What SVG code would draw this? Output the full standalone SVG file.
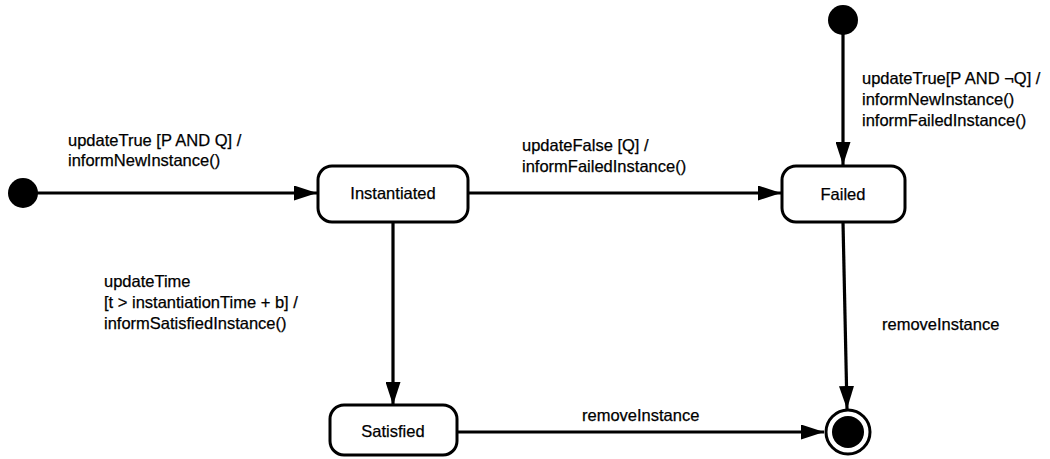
<svg xmlns="http://www.w3.org/2000/svg" width="1050" height="459" viewBox="0 0 1050 459">
  <style>
    text { font-family: "Liberation Sans", Arial, sans-serif; font-size: 16.5px; fill: #000; stroke: #000; stroke-width: 0.25; }
    .state { fill: #fff; stroke: #000; stroke-width: 3; }
    .name { text-anchor: middle; }
    .edge { fill: none; stroke: #000; stroke-width: 3.2; }
    .dot { fill: #000; }
  </style>
  <defs>
    <marker id="arrow" viewBox="0 0 23 15" refX="23" refY="7.5" markerWidth="23" markerHeight="15" markerUnits="userSpaceOnUse" orient="auto">
      <path d="M0,0 L23,7.5 L0,15 Z" fill="#000"/>
    </marker>
  </defs>

  <!-- transitions -->
  <g id="connectors">
    <line class="edge" x1="36" y1="193" x2="317" y2="193" marker-end="url(#arrow)"/>
    <line class="edge" x1="468" y1="193" x2="781" y2="193" marker-end="url(#arrow)"/>
    <line class="edge" x1="843" y1="34" x2="843" y2="165" marker-end="url(#arrow)"/>
    <line class="edge" x1="393" y1="222" x2="393" y2="405" marker-end="url(#arrow)"/>
    <line class="edge" x1="843" y1="222" x2="847" y2="409" marker-end="url(#arrow)"/>
    <line class="edge" x1="457" y1="432" x2="824" y2="432" marker-end="url(#arrow)"/>
  </g>

  <!-- transition labels -->
  <g id="labels">
    <text x="68" y="146">updateTrue [P AND Q] /</text>
    <text x="68" y="166">informNewInstance()</text>
    <text x="522" y="151">updateFalse [Q] /</text>
    <text x="522" y="172">informFailedInstance()</text>
    <text x="862" y="84">updateTrue[P AND ¬Q] /</text>
    <text x="862" y="105">informNewInstance()</text>
    <text x="862" y="126">informFailedInstance()</text>
    <text x="104" y="287">updateTime</text>
    <text x="104" y="308">[t &gt; instantiationTime + b] /</text>
    <text x="104" y="329">informSatisfiedInstance()</text>
    <text x="882" y="330">removeInstance</text>
    <text x="582" y="421">removeInstance</text>
  </g>

  <!-- pseudo states -->
  <g id="initial-left">
    <circle class="dot" cx="23" cy="193" r="15"/>
  </g>
  <g id="initial-top">
    <circle class="dot" cx="843" cy="20" r="15"/>
  </g>
  <g id="final">
    <circle cx="848" cy="432" r="22" fill="#fff" stroke="#000" stroke-width="3"/>
    <circle class="dot" cx="848" cy="432" r="16"/>
  </g>

  <!-- states -->
  <g id="instantiated">
    <rect class="state" x="318" y="166" width="150" height="56" rx="14"/>
    <text class="name" x="393" y="199">Instantiated</text>
  </g>
  <g id="failed">
    <rect class="state" x="782" y="166" width="123" height="56" rx="14"/>
    <text class="name" x="843" y="200">Failed</text>
  </g>
  <g id="satisfied">
    <rect class="state" x="330" y="405" width="127" height="50" rx="14"/>
    <text class="name" x="393" y="437">Satisfied</text>
  </g>
</svg>
